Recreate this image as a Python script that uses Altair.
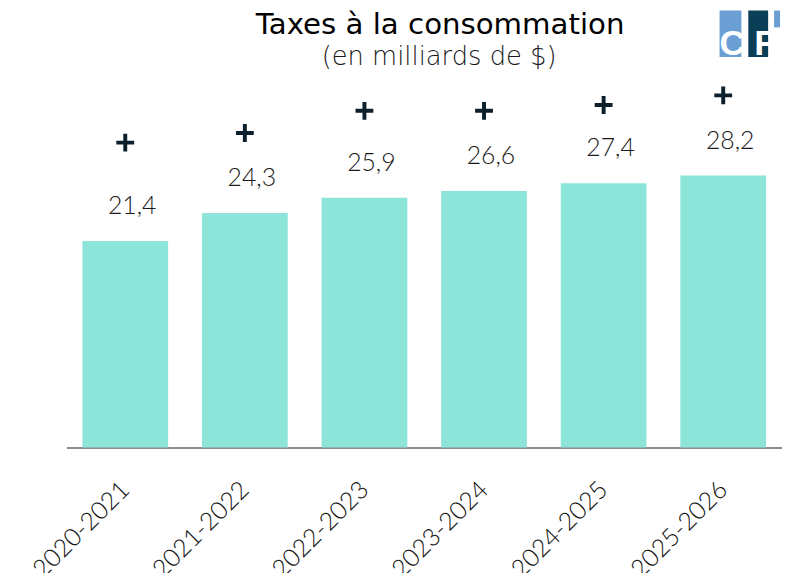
import altair as alt
import pandas as pd

# ---- data ----
years = ["2020-2021", "2021-2022", "2022-2023", "2023-2024", "2024-2025", "2025-2026"]
values = [21.4, 24.3, 25.9, 26.6, 27.4, 28.2]
plus_levels = [31.6, 32.6, 34.9, 34.9, 35.5, 36.5]

title_text = "Taxes à la consommation"
subtitle_text = "(en milliards de $)"

labels = [f"{v:.1f}".replace(".", ",") for v in values]
df = pd.DataFrame({"annee": years, "valeur": values, "etiquette": labels, "plus": plus_levels})

W, H = 722, 370
FONT = "Lato"
TFONT = "DejaVu Sans"

x = alt.X(
    "annee:N", sort=years, title=None,
    scale=alt.Scale(paddingInner=0.283, paddingOuter=0.133),
    axis=alt.Axis(labelAngle=-45, labelAlign="right", labelBaseline="middle",
                  labelFontSize=25, labelFont=FONT, labelFontWeight=300,
                  labelColor="#111111",
                  labelPadding=38, ticks=False, domainColor="#8c8c8c",
                  domainWidth=2, grid=False),
)
yscale = alt.Scale(domain=[0, 38], nice=False)
y = alt.Y("valeur:Q", scale=yscale, axis=None)

base = alt.Chart(df)
bars = base.mark_bar(color="#8de5d9").encode(x=x, y=y)
vals = base.mark_text(dy=-35, dx=7, fontSize=25, font=FONT, fontWeight=300, color="#1a1a1a",
                      baseline="middle").encode(x=x, y=y, text="etiquette:N")
plus = base.mark_point(
    shape="M-1,-0.22H1V0.22H-1Z M-0.22,-1H0.22V1H-0.22Z",
    filled=True, size=324, color="#0c1f2c", opacity=1, dx=3,
).encode(x=x, y=alt.Y("plus:Q", scale=yscale, axis=None))

one = alt.Chart(pd.DataFrame({"k": [0]}))
title = one.mark_text(text=title_text, fontSize=29.5, font=TFONT, color="#000000",
                      baseline="alphabetic", align="center").encode(
    x=alt.value(377), y=alt.value(-47))
subtitle = one.mark_text(text=subtitle_text, fontSize=26, font=TFONT, fontWeight=300,
                         color="#1a1a1a",
                         baseline="alphabetic", align="center").encode(
    x=alt.value(376), y=alt.value(-16))

# logo (decoration)
r1 = one.mark_rect(color="#6b9fd3").encode(x=alt.value(659), x2=alt.value(681),
                                           y=alt.value(-71), y2=alt.value(-24))
r2 = one.mark_rect(color="#0b3f57").encode(x=alt.value(688), x2=alt.value(708),
                                           y=alt.value(-71), y2=alt.value(-24))
r3 = one.mark_rect(color="#6b9fd3").encode(x=alt.value(714), x2=alt.value(720),
                                           y=alt.value(-71), y2=alt.value(-54))
c_txt = one.mark_text(text="C", fontSize=36, fontWeight="bold", font="Liberation Sans",
                      color="white", baseline="alphabetic", align="center").encode(
    x=alt.value(672), y=alt.value(-26))
f_txt = one.mark_text(text="F", fontSize=36, fontWeight="bold", font="Liberation Sans",
                      color="white", baseline="alphabetic", align="center").encode(
    x=alt.value(705), y=alt.value(-26))

chart = alt.layer(bars, vals, plus, title, subtitle, r1, r2, r3, c_txt, f_txt).properties(
    width=W, height=H,
    autosize=alt.AutoSizeParams(type="none"),
    padding={"left": 59, "top": 71, "right": 0, "bottom": 124},
).configure_view(stroke=None)

chart.save("out.html", embed_options={"renderer": "svg", "actions": False})
